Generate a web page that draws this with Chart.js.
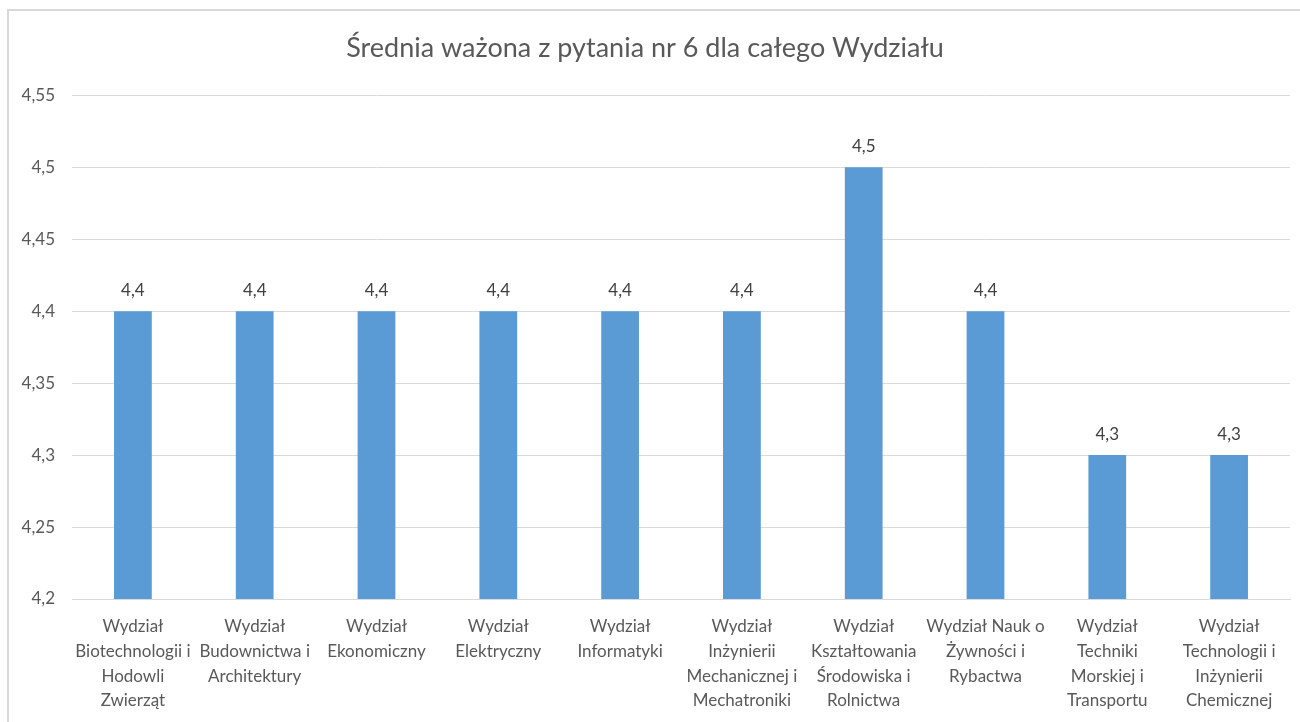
<!DOCTYPE html>
<html>
<head>
<meta charset="utf-8">
<script src="https://cdn.jsdelivr.net/npm/chart.js@4"></script>
<style>
  html, body { margin: 0; padding: 0; background: #fff; overflow: hidden; }
  #frame { position: absolute; left: 7px; top: 9px; width: 1310px; height: 730px; border: 2px solid #d9d9d9; box-sizing: border-box; }
  #wrap { position: absolute; left: 0; top: 0; width: 1300px; height: 722px; }
</style>
</head>
<body>
<div id="frame"></div>
<div id="wrap"><canvas id="chart"></canvas></div>
<script>
const labels = [
  ["Wydział", "Biotechnologii i", "Hodowli", "Zwierząt"],
  ["Wydział", "Budownictwa i", "Architektury"],
  ["Wydział", "Ekonomiczny"],
  ["Wydział", "Elektryczny"],
  ["Wydział", "Informatyki"],
  ["Wydział", "Inżynierii", "Mechanicznej i", "Mechatroniki"],
  ["Wydział", "Kształtowania", "Środowiska i", "Rolnictwa"],
  ["Wydział Nauk o", "Żywności i", "Rybactwa"],
  ["Wydział", "Techniki", "Morskiej i", "Transportu"],
  ["Wydział", "Technologii i", "Inżynierii", "Chemicznej"]
];
const values = [4.4, 4.4, 4.4, 4.4, 4.4, 4.4, 4.5, 4.4, 4.3, 4.3];
const yMin = 4.2, yMax = 4.55, yStep = 0.05;

const fmt = v => String(Math.round(v * 100) / 100).replace(".", ",");
const FONT = "Lato, 'Open Sans', sans-serif";

const valueLabels = {
  id: "valueLabels",
  afterDatasetsDraw(chart) {
    const ctx = chart.ctx;
    const meta = chart.getDatasetMeta(0);
    ctx.save();
    ctx.fillStyle = "#404040";
    ctx.font = "17px " + FONT;
    ctx.textAlign = "center";
    ctx.textBaseline = "middle";
    meta.data.forEach((bar, i) => {
      ctx.fillText(fmt(values[i]), bar.x, bar.y - 21);
    });
    ctx.restore();
  }
};

new Chart(document.getElementById("chart"), {
  type: "bar",
  data: {
    labels: labels,
    datasets: [{
      data: values,
      backgroundColor: "#5b9bd5",
      barPercentage: 0.31,
      categoryPercentage: 1
    }]
  },
  options: {
    responsive: true,
    maintainAspectRatio: false,
    animation: false,
    layout: { padding: { left: 0, right: 10, top: 0, bottom: 0 } },
    plugins: {
      legend: { display: false },
      tooltip: { enabled: false },
      title: {
        display: true,
        text: "Średnia ważona z pytania nr 6 dla całego Wydziału",
        color: "#595959",
        font: { family: FONT, size: 27, weight: "normal" },
        padding: { top: 32, bottom: 31 }
      }
    },
    scales: {
      x: {
        grid: { display: false, drawTicks: false },
        border: { color: "#d9d9d9", width: 1 },
        ticks: {
          color: "#595959",
          font: { family: FONT, size: 17, lineHeight: 1.46 },
          padding: 15,
          maxRotation: 0,
          autoSkip: false
        },
        afterFit(scale) { scale.height = 123; }
      },
      y: {
        min: yMin,
        max: yMax,
        grid: { color: "#d9d9d9", drawTicks: false },
        border: { display: false },
        ticks: {
          stepSize: yStep,
          color: "#595959",
          font: { family: FONT, size: 17 },
          padding: 17,
          callback: v => fmt(v)
        },
        afterFit(scale) { scale.width = 72; }
      }
    }
  },
  plugins: [valueLabels]
});
</script>
</body>
</html>
